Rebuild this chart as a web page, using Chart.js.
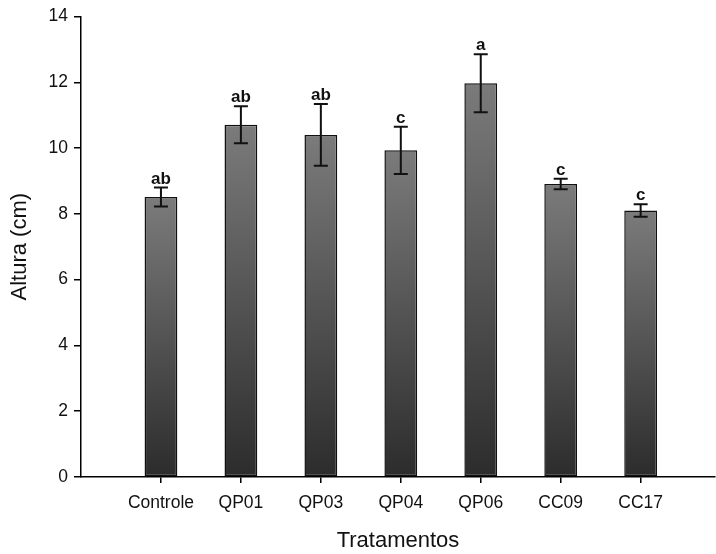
<!DOCTYPE html>
<html>
<head>
<meta charset="utf-8">
<script src="https://cdn.jsdelivr.net/npm/chart.js@4/dist/chart.umd.min.js"></script>
<style>
html,body{margin:0;padding:0;background:#fff;}
#wrap{width:716px;height:554px;position:relative;}
</style>
</head>
<body>
<div id="wrap"><canvas id="c"></canvas></div>
<script>
const categories = ['Controle','QP01','QP03','QP04','QP06','CC09','CC17'];
const alturas = [8.51, 10.71, 10.40, 9.93, 11.97, 8.91, 8.10];
const erros = [0.29, 0.56, 0.94, 0.72, 0.88, 0.16, 0.19];
const letras = ['ab','ab','ab','c','a','c','c'];
const yTicks = [0,2,4,6,8,10,12,14];

const FONT = '"Liberation Sans", Arial, sans-serif';

const errorPlugin = {
  id: 'errbars',
  afterDatasetsDraw(chart) {
    const ctx = chart.ctx;
    const xs = chart.scales.x, ys = chart.scales.y;
    ctx.save();
    ctx.strokeStyle = '#111';
    ctx.lineWidth = 2;
    ctx.fillStyle = '#111';
    ctx.font = 'bold 17px ' + FONT;
    ctx.textAlign = 'center';
    ctx.textBaseline = 'alphabetic';
    categories.forEach((c, i) => {
      const x = xs.getPixelForValue(i + 1);
      const yt = ys.getPixelForValue(alturas[i] + erros[i]);
      const yb = ys.getPixelForValue(alturas[i] - erros[i]);
      ctx.beginPath();
      ctx.moveTo(x, yt); ctx.lineTo(x, yb);
      ctx.moveTo(x - 7, yt); ctx.lineTo(x + 7, yt);
      ctx.moveTo(x - 7, yb); ctx.lineTo(x + 7, yb);
      ctx.stroke();
      ctx.fillText(letras[i], x, yt - 4);
    });
    ctx.restore();
  }
};

new Chart(document.getElementById('c'), {
  type: 'bar',
  data: {
    datasets: [{
      data: categories.map((c, i) => ({x: i + 1, y: alturas[i]})),
      backgroundColor(context) {
        const chart = context.chart;
        const ys = chart.scales.y;
        if (!chart.chartArea || !ys || context.type !== 'data') return '#555';
        const top = ys.getPixelForValue(context.parsed.y);
        const bot = ys.getPixelForValue(0);
        if (!isFinite(top) || !isFinite(bot) || top === bot) return '#555';
        const g = chart.ctx.createLinearGradient(0, top, 0, bot);
        g.addColorStop(0, '#7b7b7b');
        g.addColorStop(1, '#2c2c2c');
        return g;
      },
      borderColor: '#111',
      borderWidth: 1.5,
      borderSkipped: false,
      barPercentage: 0.41,
      categoryPercentage: 1
    }]
  },
  options: {
    responsive: true,
    maintainAspectRatio: false,
    animation: false,
    layout: {padding: {top: 16, right: 1, left: 0, bottom: 0}},
    plugins: {legend: {display: false}, tooltip: {enabled: false}},
    scales: {
      x: {
        type: 'linear',
        offset: false,
        min: 0,
        max: 7.93,
        afterBuildTicks(scale) {
          scale.ticks = categories.map((c, i) => ({value: i + 1}));
        },
        afterFit(scale) { scale.height = 77; },
        ticks: {
          callback: (v) => categories[v - 1] || '',
          font: {family: FONT, size: 17.5},
          color: '#111',
          padding: 10,
          maxRotation: 0,
          autoSkip: false
        },
        grid: {offset: false, drawOnChartArea: false, drawTicks: true, tickLength: 6, color: '#000', lineWidth: 1.5},
        border: {color: '#000', width: 1.5},
        title: {display: true, text: 'Tratamentos', font: {family: FONT, size: 22}, color: '#111', padding: {top: 0, bottom: 0}}
      },
      y: {
        min: 0,
        max: 14,
        afterBuildTicks(scale) {
          scale.ticks = yTicks.map(v => ({value: v}));
        },
        afterFit(scale) { scale.width = 81; },
        ticks: {
          font: {family: FONT, size: 17.5},
          color: '#111',
          padding: 6
        },
        grid: {drawOnChartArea: false, drawTicks: true, tickLength: 7, color: '#000', lineWidth: 1.5},
        border: {color: '#000', width: 1.5},
        title: {display: true, text: 'Altura (cm)', font: {family: FONT, size: 22}, color: '#111', padding: {top: 7, bottom: 0}}
      }
    }
  },
  plugins: [errorPlugin]
});
</script>
</body>
</html>
